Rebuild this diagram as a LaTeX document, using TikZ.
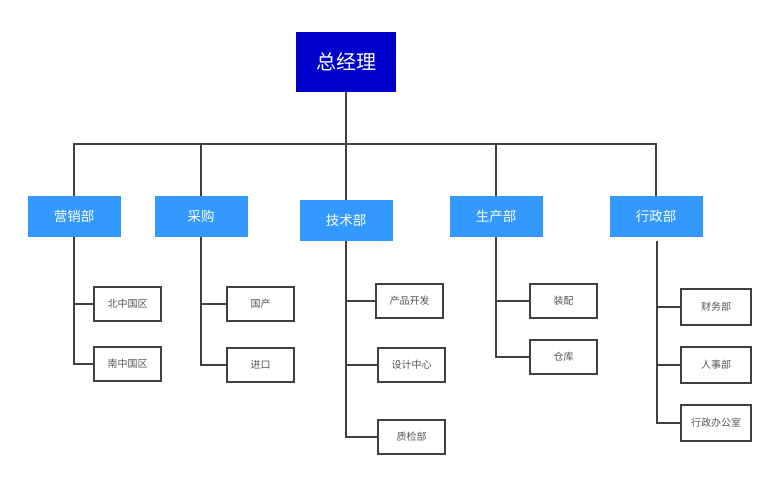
\documentclass[tikz,border=0pt]{standalone}
\usepackage{fontspec}
\newfontfamily\cjk{Noto Sans CJK SC}
\definecolor{bossblue}{HTML}{0000CC}
\definecolor{deptblue}{HTML}{3399FF}
\definecolor{wire}{HTML}{404040}
\definecolor{subtext}{HTML}{555555}
\begin{document}
\begin{tikzpicture}[x=1pt,y=-1pt]
	      \tikzstyle{every node}=[font=\cjk,inner sep=0pt]
	      \tikzstyle{bossbox}=[fill=bossblue,text=white,minimum width=100pt,minimum height=60pt,font=\cjk\fontsize{20}{24}\selectfont]
	      \tikzstyle{deptbox}=[fill=deptblue,text=white,minimum width=93pt,minimum height=41pt,font=\cjk\fontsize{13.5}{16}\selectfont]
	      \tikzstyle{subbox}=[draw=wire,line width=1.6pt,text=subtext,minimum width=67pt,minimum height=34pt,font=\cjk\fontsize{10}{12}\selectfont]
	      \tikzstyle{link}=[draw=wire,line width=1.6pt]
	      \useasboundingbox (0,0) rectangle (770,501);
	      % top and departments
	      \node[bossbox](zjl) at (346,62){总经理};
	      \node[deptbox](yxb) at (74,216.5){营销部};
	      \node[deptbox](cg) at (201,216.5){采购};
	      \node[deptbox](jsb) at (346,220.5){技术部};
	      \node[deptbox](scb) at (496,216.5){生产部};
	      \node[deptbox](xzb) at (656,216.5){行政部};
	      \coordinate (bus) at (346,144);
	      % sub units
	      \node[subbox](bzgq) at (127.5,304){北中国区};
	      \node[subbox](nzgq) at (127.5,364){南中国区};
	      \node[subbox](gc) at (260.5,304){国产};
	      \node[subbox](jk) at (260.5,365){进口};
	      \node[subbox](cpkf) at (409.5,301){产品开发};
	      \node[subbox](sjzx) at (411.5,365){设计中心};
	      \node[subbox](zjb) at (411.5,437){质检部};
	      \node[subbox](zp) at (563.5,301){装配};
	      \node[subbox](ck) at (563.5,357){仓库};
	      \node[subbox,minimum width=70pt,minimum height=36pt](cwb) at (716,307){财务部};
	      \node[subbox,minimum width=70pt,minimum height=36pt](rsb) at (716,365){人事部};
	      \node[subbox,minimum width=70pt,minimum height=36pt](xzbgs) at (716,423){行政办公室};
	      % bus
	      \draw[link](zjl.south)--(bus);
	      \draw[link](yxb.north)|-(bus)-|(xzb.north);
	      \draw[link](cg.north)--(cg.north|-bus);
	      \draw[link](jsb.north)--(jsb.north|-bus);
	      \draw[link](scb.north)--(scb.north|-bus);
	      % branches
	      \draw[link](yxb.south)|-(nzgq.west);
	      \draw[link](bzgq.west)--(yxb.south|-bzgq.west);
	      \draw[link](cg.south)|-(jk.west);
	      \draw[link](gc.west)--(cg.south|-gc.west);
	      \draw[link](jsb.south)|-(zjb.west);
	      \draw[link](cpkf.west)--(jsb.south|-cpkf.west);
	      \draw[link](sjzx.west)--(jsb.south|-sjzx.west);
	      \draw[link](scb.south)|-(ck.west);
	      \draw[link](zp.west)--(scb.south|-zp.west);
	      \draw[link,shorten <=4pt]([xshift=1pt]xzb.south)|-(xzbgs.west);
	      \draw[link](cwb.west)--([xshift=1pt]xzb.south|-cwb.west);
	      \draw[link](rsb.west)--([xshift=1pt]xzb.south|-rsb.west);
	    \end{tikzpicture}
\end{document}
